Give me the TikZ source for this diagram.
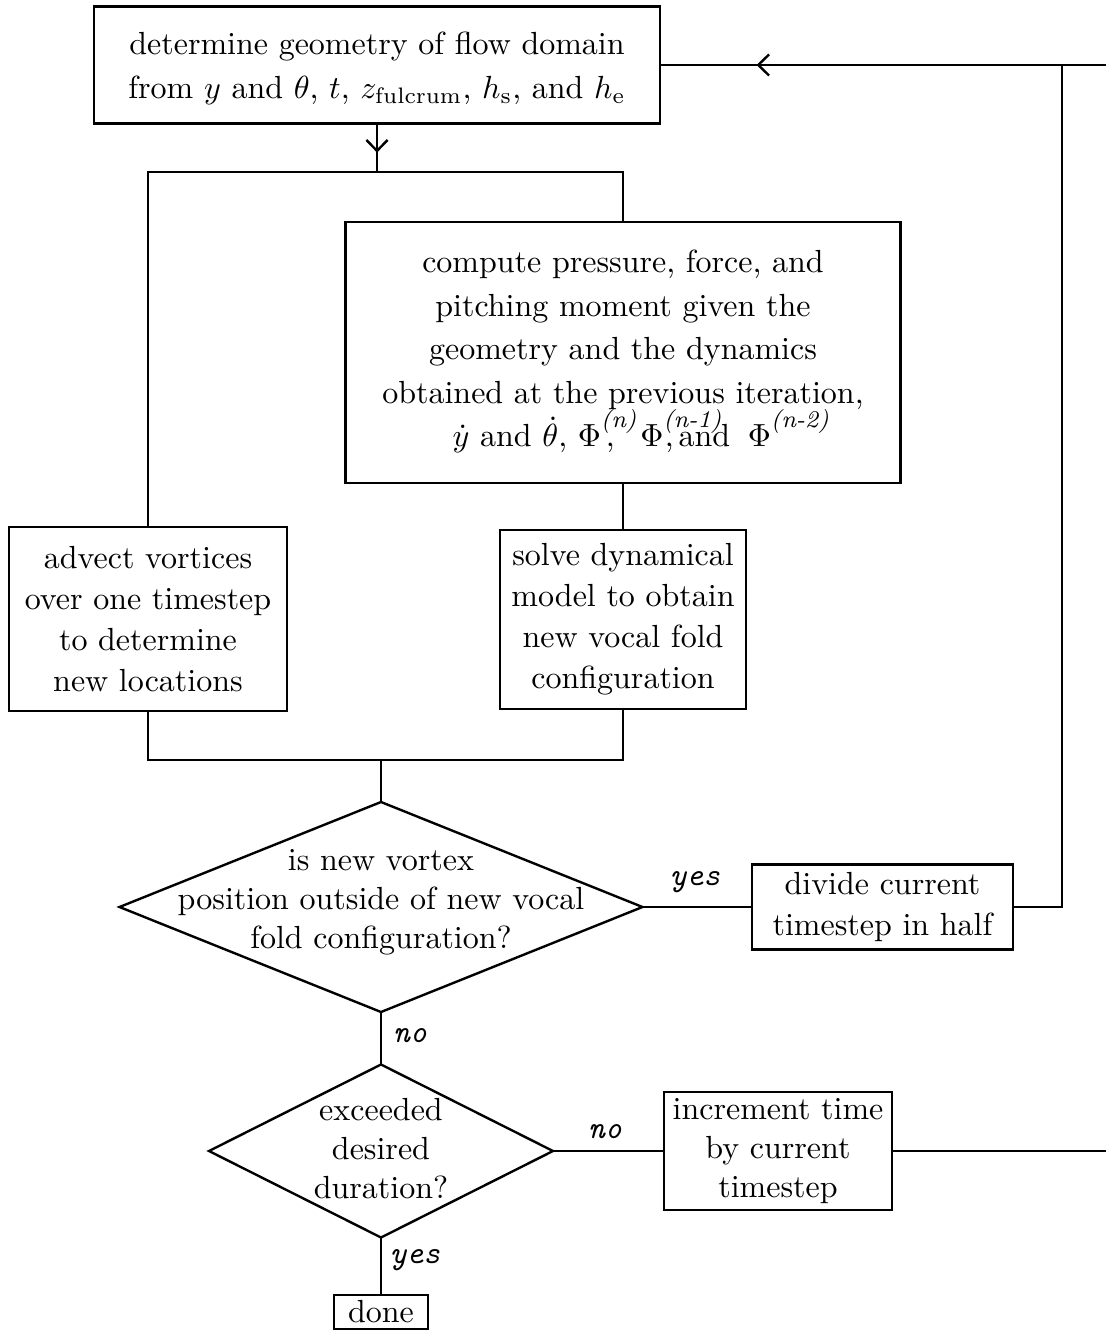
\documentclass[tikz,border=0pt]{standalone}
\usetikzlibrary{shapes.geometric,arrows.meta,decorations.markings}
\newlength\px
\setlength\px{0.3125pt}
\tikzset{
  base/.style={draw, line width=0.75pt, inner sep=0pt, outer sep=0pt, align=center},
  box/.style={base, rectangle},
  dia/.style={base, diamond},
  conn/.style={line width=0.75pt},
  lab/.style={font=\ttfamily\itshape\fontsize{10}{12}\selectfont, inner sep=0pt},
  txt/.style={align=center, inner sep=0pt},
  midarrow/.style={postaction={decorate}, decoration={markings,
     mark=at position #1 with {\arrow{Straight Barb[length=3.4pt,width=6.6pt,line width=0.75pt]}}}},
  sp/.style={font=\fontsize{10}{#1}\selectfont}
}
\newcommand{\supit}[1]{\rlap{\raisebox{6pt}{\fontsize{7.5}{8}\selectfont\itshape #1}}}
\begin{document}
\begin{tikzpicture}[x=0.3125pt, y=-0.3125pt]
\useasboundingbox (0,0) rectangle (1106,1331);

% boxes
\node[box, sp=13.75pt, minimum width=566\px, minimum height=117\px] (top) at (377,65)
  {\raisebox{-1pt}[\height][\depth]{determine geometry of flow domain}\\
   \raisebox{-1pt}[\height][\depth]{from $y$ and $\theta$, $t$, $z_{\mathrm{fulcrum}}$, $h_{\mathrm{s}}$, and $h_{\mathrm{e}}$}};
\node[box, sp=13.6pt, minimum width=555\px, minimum height=261\px] (comp) at (623,352.5)
  {compute pressure, force, and\\
   pitching moment given the\\
   geometry and the dynamics\\
   obtained at the previous iteration,\\
   \raisebox{0pt}[7pt][2.5pt]{$\dot{y}$ and $\dot{\theta}$, $\Phi$\supit{(n)}\hspace{1.5pt},\hspace{8pt}$\Phi$\supit{(n-1)}\hspace{0.5pt},\hspace{1.5pt}and\hspace{5.5pt}$\Phi$\supit{(n-2)}\hspace{7pt}}};
\node[box, sp=12.8pt, minimum width=278\px, minimum height=184\px] (adv) at (148,619)
  {advect vortices\\ over one timestep\\ to determine\\ new locations};
\node[box, sp=12.8pt, minimum width=246\px, minimum height=179\px] (solve) at (623,619.5)
  {solve dynamical\\ model to obtain\\ new vocal fold\\ configuration};
\node[dia, minimum width=523\px, minimum height=210\px] (d1) at (381,907) {};
\node[txt, sp=12.2pt] (d1t) at (381,902)
  {is new vortex\\ position outside of new vocal\\ fold configuration?};
\node[box, sp=12.8pt, minimum width=261\px, minimum height=85\px] (div) at (882.5,907)
  {divide current\\ timestep in half};
\node[dia, minimum width=344\px, minimum height=173\px] (d2) at (381,1151) {};
\node[txt, sp=12.2pt] (d2t) at (381,1149)
  {exceeded\\ desired\\ duration?};
\node[box, sp=12.2pt, minimum width=228\px, minimum height=118\px] (inc) at (778,1151)
  {increment time\\ by current\\ timestep};
\node[box, sp=12pt, minimum width=94\px, minimum height=34\px] (done) at (381,1312) {done};

% labels
\node[lab] (lyes1) at (695,882) {yes};
\node[lab] (lno1) at (410,1036) {no};
\node[lab] (lno2) at (605,1132) {no};
\node[lab] (lyes2) at (415,1260) {yes};

% junction coordinates
\coordinate (B) at (377,172);
\coordinate (J2) at (381,760);
\coordinate (J1) at (1062,65);
\coordinate (E1) at (1106,65);
\coordinate (E2) at (1106,1151);

% connectors
\draw[conn, midarrow=0.6] (top.south) -- (B);
\draw[conn] (adv.north) |- (B) -| (comp.north);
\draw[conn] (comp.south) -- (solve.north);
\draw[conn] (adv.south) |- (J2) -| (solve.south);
\draw[conn] (J2) -- (d1.north);
\draw[conn] (d1.east) -- (div.west);
\draw[conn] (div.east) -| (J1);
\draw[conn, midarrow=0.76] (J1) -- (top.east);
\draw[conn] (E1) -- (J1);
\draw[conn] (d1.south) -- (d2.north);
\draw[conn] (d2.east) -- (inc.west);
\draw[conn] (inc.east) -- (E2);
\draw[conn] (d2.south) -- (done.north);
\end{tikzpicture}
\end{document}
